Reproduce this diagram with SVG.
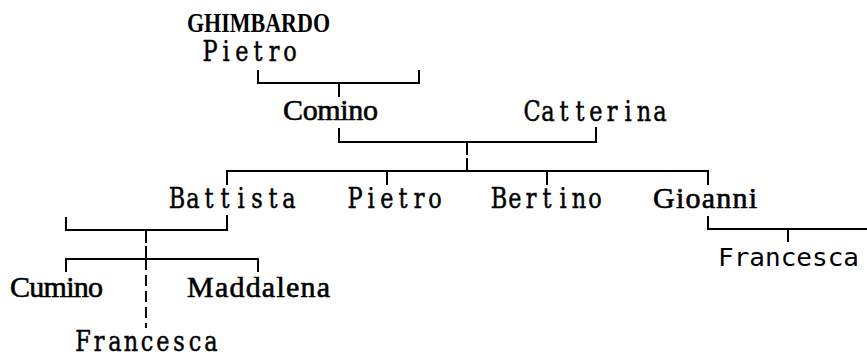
<svg xmlns="http://www.w3.org/2000/svg" width="867" height="356" viewBox="0 0 867 356">
<style>
.t{font-family:"DejaVu Serif","Liberation Serif",serif;font-size:28px;fill:#000;stroke:#000;stroke-width:0.5;text-anchor:middle}
.p{font-family:"Liberation Serif","DejaVu Serif",serif;font-size:30px;fill:#000;stroke:#000;stroke-width:0.6}
.s{font-family:"DejaVu Sans Mono","Liberation Mono",monospace;font-size:24px;fill:#000}
.h{font-family:"Liberation Serif","DejaVu Serif",serif;font-size:28px;font-weight:bold;fill:#000}
.l{fill:none;stroke:#000;stroke-width:2}
.d{fill:none;stroke:#000;stroke-width:2;stroke-dasharray:11 5}
</style>
<rect width="867" height="356" fill="#fff"/>
<g id="connectors">
<path class="l" d="M258,70 V83 H419 V70 M339,83 V97"/>
<path class="l" d="M339,128 V142 H596 V127 M467,142 V155 M467,158 V171"/>
<path class="l" d="M227,185 V171 H708 V185 M387,171 V185 M547,171 V185"/>
<path class="l" d="M708,216 V229 H867 M788,229 V242"/>
<path class="l" d="M66,217 V230 H227 V215 M146,230 V243 M146,246 V259"/>
<path class="l" d="M66,272 V259 H258 V272"/>
<path class="d" d="M146,259 V328"/>
</g>
<g id="ghimbardo"><text class="h" x="187" y="32" textLength="143" lengthAdjust="spacingAndGlyphs">GHIMBARDO</text></g>
<g id="pietro-1"><text class="t" transform="translate(210,61) scale(0.8,1)" x="0 20 40 60 80 100" y="0">Pietro</text></g>
<g id="comino"><text class="p" x="283" y="120" textLength="95" lengthAdjust="spacing">Comino</text></g>
<g id="catterina"><text class="t" transform="translate(532,121) scale(0.8,1)" x="0 20 40 60 80 100 120 140 160" y="0">Catterina</text></g>
<g id="battista"><text class="t" transform="translate(177,208) scale(0.8,1)" x="0 20 40 60 80 100 120 140" y="0">Battista</text></g>
<g id="pietro-2"><text class="t" transform="translate(355,208) scale(0.8,1)" x="0 20 40 60 80 100" y="0">Pietro</text></g>
<g id="bertino"><text class="t" transform="translate(499,208) scale(0.8,1)" x="0 20 40 60 80 100 120" y="0">Bertino</text></g>
<g id="gioanni"><text class="p" x="653" y="208" textLength="104" lengthAdjust="spacing">Gioanni</text></g>
<g id="francesca-2"><text class="s" x="718" y="266" textLength="141" lengthAdjust="spacingAndGlyphs">Francesca</text></g>
<g id="cumino"><text class="p" x="10" y="297" textLength="93" lengthAdjust="spacing">Cumino</text></g>
<g id="maddalena"><text class="p" x="187" y="297" textLength="143" lengthAdjust="spacing">Maddalena</text></g>
<g id="francesca-1"><text class="t" transform="translate(83,351) scale(0.8,1)" x="0 20 40 60 80 100 120 140 160" y="0">Francesca</text></g>
</svg>
